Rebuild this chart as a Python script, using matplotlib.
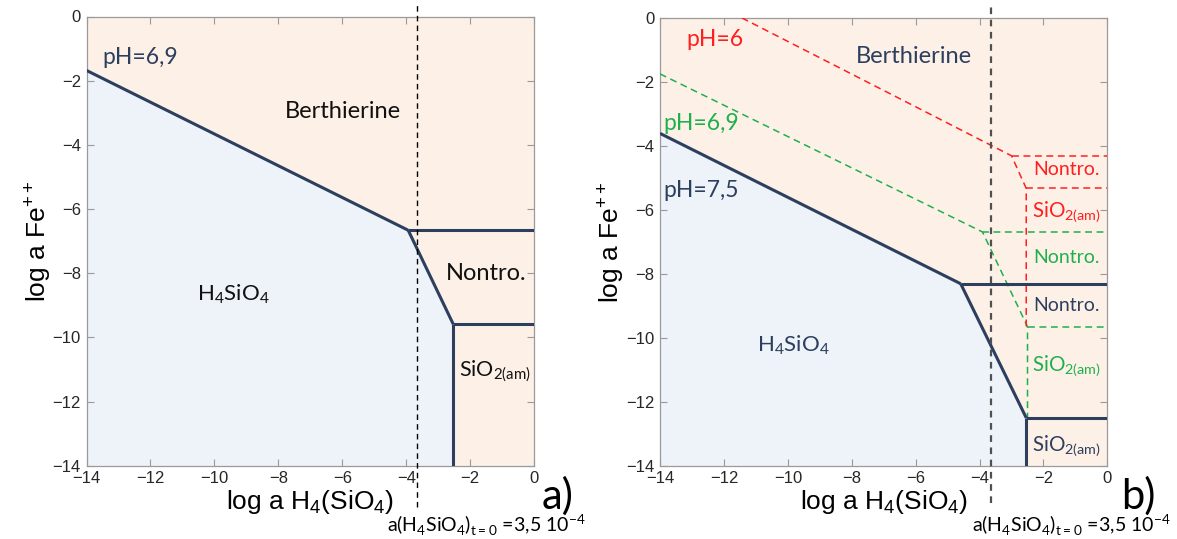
import matplotlib

matplotlib.use("Agg")
import matplotlib.pyplot as plt
from matplotlib.transforms import blended_transform_factory

# ---------------------------------------------------------------------------
# data (log activities)
# ---------------------------------------------------------------------------
X_T0 = -3.65  # log a(H4SiO4) at t=0 (marker line)

# panel a) pH 6.9 boundaries
a_diag_x = [-14.0, -3.94]
a_diag_y = [-1.68, -6.66]
a_steep_x = [-3.94, -2.53]
a_steep_y = [-6.66, -9.59]
a_nontro_y = -6.66
a_sio2_y = -9.59
a_sio2_x = -2.53

# panel b) pH 7.5 (solid)
b75_diag_x = [-14.0, -4.59]
b75_diag_y = [-3.61, -8.31]
b75_steep_x = [-4.59, -2.54]
b75_steep_y = [-8.31, -12.50]
b75_nontro_y = -8.31
b75_sio2_y = -12.50
b75_sio2_x = -2.54

# panel b) pH 6.9 (dashed green)
b69_x = [-14.0, -3.91, -2.50, -2.50]
b69_y = [-1.75, -6.69, -9.65, -12.50]
b69_nontro_y = -6.69
b69_sio2_y = -9.65

# panel b) pH 6 (dashed red)
b60_x = [-11.44, -3.00, -2.54, -2.54]
b60_y = [0.0, -4.31, -5.33, -9.65]
b60_nontro_y = -4.31
b60_sio2_y = -5.33

ticks = [-14, -12, -10, -8, -6, -4, -2, 0]

NAVY = "#2c3f5e"
GREEN = "#1fb04c"
RED = "#ff1f1f"
PEACH = "#fdf1e7"
BLUE = "#eef2f9"
SPINE = "#9a9a9a"

LBL = "Lato"
AX_FONT = "Liberation Sans"

fig = plt.figure(figsize=(11.77, 5.39), dpi=100)
fig.patch.set_facecolor("white")


def setup_axes(rect):
    ax = fig.add_axes(rect)
    ax.set_xlim(-14, 0)
    ax.set_ylim(-14, 0)
    ax.set_facecolor(PEACH)
    ax.set_xticks(ticks)
    ax.set_yticks(ticks)
    ax.tick_params(direction="in", length=5, width=0.8, color=SPINE,
                   top=True, right=True, labelsize=12,
                   labelcolor="#262626", pad=4)
    for lab in ax.get_xticklabels() + ax.get_yticklabels():
        lab.set_family(AX_FONT)
    for sp in ax.spines.values():
        sp.set_color(SPINE)
        sp.set_linewidth(0.9)
    ax.set_xlabel(r"log a H$_\mathregular{4}$(SiO$_\mathregular{4}$)",
                  family=AX_FONT, fontsize=19, labelpad=1)
    ax.set_ylabel(r"log a Fe$^\mathregular{++}$", family=AX_FONT,
                  fontsize=19, labelpad=0)
    return ax


def t0_marker(ax, color, lw, dashes, y0, x_txt, panel, x_panel):
    tr = blended_transform_factory(ax.transData, fig.transFigure)
    ax.plot([X_T0, X_T0], [y0, 0.99], color=color, lw=lw, dashes=dashes,
            transform=tr, clip_on=False, zorder=6)
    fig.text(x_txt, 0.026,
             r"a(H$_\mathregular{4}$SiO$_\mathregular{4}$)$_\mathregular{t=0}$"
             r" =3,5 10$^\mathregular{-4}$",
             family=LBL, fontsize=14, ha="center", va="center")
    fig.text(x_panel, 0.08, panel, family=LBL, fontsize=30,
             ha="center", va="center")


# -- panel a ---------------------------------------------------------------
ax1 = setup_axes([86.5 / 1177, 1 - 465.8 / 539, 447.7 / 1177, 449.3 / 539])
ax1.fill([-14, *a_diag_x, a_steep_x[1], a_sio2_x],
         [-14, *a_diag_y, a_steep_y[1], -14], color=BLUE, lw=0, zorder=1)
kw = dict(color=NAVY, lw=2.2, solid_capstyle="butt", zorder=4)
ax1.plot(a_diag_x, a_diag_y, **kw)
ax1.plot(a_steep_x, a_steep_y, **kw)
ax1.plot([a_diag_x[1], 0], [a_nontro_y, a_nontro_y], **kw)
ax1.plot([a_sio2_x, 0], [a_sio2_y, a_sio2_y], **kw)
ax1.plot([a_sio2_x, a_sio2_x], [a_sio2_y, -14], **kw)

ax1.text(-13.51, -1.29, "pH=6,9", color=NAVY, family=LBL, fontsize=16.5,
         va="center", ha="left")
ax1.text(-5.98, -2.97, "Berthierine", color="#111111", family=LBL,
         fontsize=17, ha="center", va="center")
ax1.text(-9.4, -8.64, r"H$_\mathregular{4}$SiO$_\mathregular{4}$",
         color="#111111", family=LBL, fontsize=16, ha="center", va="center")
ax1.text(-1.51, -8.0, "Nontro.", color="#111111", family=LBL, fontsize=17,
         ha="center", va="center")
ax1.text(-1.21, -11.05, r"SiO$_\mathregular{2(am)}$", color="#111111",
         family=LBL, fontsize=15.5, ha="center", va="center")

t0_marker(ax1, "black", 1.0, (4, 3), 0.06, 486 / 1177, "a)", 558 / 1177)

# -- panel b ---------------------------------------------------------------
ax2 = setup_axes([660 / 1177, 1 - 465.8 / 539, 447.4 / 1177, 447.9 / 539])
ax2.fill([-14, *b75_diag_x, b75_steep_x[1], b75_sio2_x],
         [-14, *b75_diag_y, b75_steep_y[1], -14], color=BLUE, lw=0, zorder=1)
ax2.plot(b75_diag_x, b75_diag_y, **kw)
ax2.plot(b75_steep_x, b75_steep_y, **kw)
ax2.plot([b75_diag_x[1], 0], [b75_nontro_y, b75_nontro_y], **kw)
ax2.plot([b75_sio2_x, 0], [b75_sio2_y, b75_sio2_y], **kw)
ax2.plot([b75_sio2_x, b75_sio2_x], [b75_sio2_y, -14], **kw)

dkw = dict(lw=1.1, dashes=(4.5, 3), zorder=3)
ax2.plot(b69_x, b69_y, color=GREEN, **dkw)
ax2.plot([b69_x[1], 0], [b69_nontro_y, b69_nontro_y], color=GREEN, **dkw)
ax2.plot([b69_x[2], 0], [b69_sio2_y, b69_sio2_y], color=GREEN, **dkw)
ax2.plot(b60_x, b60_y, color=RED, **dkw)
ax2.plot([b60_x[1], 0], [b60_nontro_y, b60_nontro_y], color=RED, **dkw)
ax2.plot([b60_x[2], 0], [b60_sio2_y, b60_sio2_y], color=RED, **dkw)

ax2.text(-13.17, -0.68, "pH=6", color=RED, family=LBL, fontsize=16.5,
         va="center", ha="left")
ax2.text(-13.88, -3.31, "pH=6,9", color=GREEN, family=LBL, fontsize=16.5,
         va="center", ha="left")
ax2.text(-13.88, -5.40, "pH=7,5", color=NAVY, family=LBL, fontsize=16.5,
         va="center", ha="left")
ax2.text(-6.04, -1.21, "Berthierine", color=NAVY, family=LBL, fontsize=17,
         ha="center", va="center")
ax2.text(-9.83, -10.24, r"H$_\mathregular{4}$SiO$_\mathregular{4}$",
         color=NAVY, family=LBL, fontsize=16, ha="center", va="center")

right_labels = [
    ("Nontro.", RED, -4.75),
    (r"SiO$_\mathregular{2(am)}$", RED, -6.04),
    ("Nontro.", GREEN, -7.48),
    ("Nontro.", NAVY, -8.98),
    (r"SiO$_\mathregular{2(am)}$", GREEN, -10.88),
    (r"SiO$_\mathregular{2(am)}$", NAVY, -13.36),
]
for txt, col, yy in right_labels:
    fs = 14 if txt == "Nontro." else 14.8
    ax2.text(-1.28, yy, txt, color=col, family=LBL, fontsize=fs,
             ha="center", va="center")

t0_marker(ax2, "#505050", 1.6, (3, 2.5), 0.066, 1071 / 1177, "b)", 1138 / 1177)

fig.savefig("out.png", dpi=100)
